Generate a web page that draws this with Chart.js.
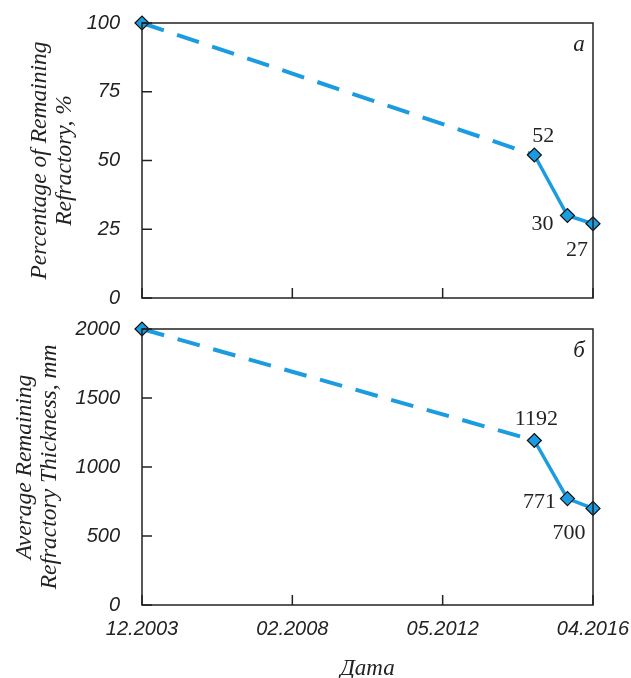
<!DOCTYPE html>
<html>
<head>
<meta charset="utf-8">
<script src="https://cdn.jsdelivr.net/npm/chart.js@4"></script>
<style>
  html, body { margin: 0; padding: 0; background: #fff; }
  #wrap { position: relative; width: 631px; height: 678px; }
  #top { position: absolute; left: 0; top: 0; }
  #bottom { position: absolute; left: 0; top: 315px; }
</style>
</head>
<body>
<div id="wrap">
  <canvas id="top" width="631" height="315"></canvas>
  <canvas id="bottom" width="631" height="363"></canvas>
</div>
<script>
// x positions on the evenly spaced date axis (0 = first tick, 3 = last tick)
const xPos = [0, 2.61, 2.83, 3];
const dateTicks = ['12.2003', '02.2008', '05.2012', '04.2016'];
const percentRemaining = [100, 52, 30, 27];
const thicknessRemaining = [2000, 1192, 771, 700];
const percentTicks = [0, 25, 50, 75, 100];
const thicknessTicks = [0, 500, 1000, 1500, 2000];

const blue = '#1b9be0';
const ink = '#222';
const tickFont = { family: 'Liberation Sans', style: 'italic', size: 20 };

// frame + inward tick marks + point labels + panel letter
const framePlugin = {
    id: 'frame',
    afterDraw(chart, args, opts) {
        const ctx = chart.ctx;
        const a = chart.chartArea;
        const xs = chart.scales.x, ys = chart.scales.y;
        ctx.save();
        ctx.strokeStyle = ink;
        ctx.lineWidth = 1.5;
        ctx.strokeRect(a.left, a.top, a.right - a.left, a.bottom - a.top);
        ctx.beginPath();
        xs.ticks.forEach(t => {
            const px = xs.getPixelForValue(t.value);
            ctx.moveTo(px, a.bottom);
            ctx.lineTo(px, a.bottom - 10);
        });
        ys.ticks.forEach(t => {
            const py = ys.getPixelForValue(t.value);
            ctx.moveTo(a.left, py);
            ctx.lineTo(a.left + 10, py);
        });
        ctx.stroke();
        ctx.restore();
    },
    afterDatasetsDraw(chart, args, opts) {
        const ctx = chart.ctx;
        const meta = chart.getDatasetMeta(0);
        ctx.save();
        ctx.fillStyle = ink;
        ctx.textAlign = 'center';
        ctx.textBaseline = 'middle';
        ctx.font = '22px "Liberation Serif"';
        opts.labels.forEach((l, i) => {
            if (!l) return;
            const pt = meta.data[i];
            ctx.fillText(l.text, pt.x + l.dx, pt.y + l.dy);
        });
        ctx.font = 'italic 23px "Liberation Serif"';
        ctx.fillText(opts.letter, chart.chartArea.right - 14, chart.chartArea.top + 22);
        ctx.restore();
    }
};

function makeChart(id, values, yTicks, yMax, yTitle, cfg) {
    return new Chart(document.getElementById(id), {
        type: 'line',
        data: {
            datasets: [{
                data: values.map((v, i) => ({ x: xPos[i], y: v })),
                borderColor: blue,
                borderWidth: 3.5,
                backgroundColor: blue,
                pointStyle: 'rectRot',
                pointRadius: 7,
                pointBorderColor: '#111',
                pointBorderWidth: 1.2,
                pointBackgroundColor: blue,
                tension: 0,
                clip: false,
                segment: {
                    borderDash: c => c.p0DataIndex === 0 ? [23, 14] : undefined,
                    borderWidth: c => c.p0DataIndex === 0 ? 4 : 3.5
                }
            }]
        },
        options: {
            responsive: false,
            animation: false,
            layout: { padding: { top: cfg.padTop, right: 38, left: 0, bottom: 0 } },
            plugins: {
                legend: { display: false },
                tooltip: { enabled: false },
                frame: { labels: cfg.labels, letter: cfg.letter }
            },
            scales: {
                x: {
                    type: 'linear',
                    min: 0, max: 3,
                    afterBuildTicks: s => { s.ticks = dateTicks.map((d, i) => ({ value: i })); },
                    afterFit: s => {
                        s.height = cfg.xHeight;
                        s.paddingLeft = 0;
                        s.paddingRight = 0;
                    },
                    grid: { display: false },
                    border: { display: false },
                    ticks: {
                        display: cfg.showX,
                        color: ink,
                        font: tickFont,
                        padding: 4,
                        maxRotation: 0,
                        autoSkip: false,
                        callback: (v, i) => dateTicks[i]
                    },
                    title: {
                        display: cfg.showX,
                        text: 'Дата',
                        color: ink,
                        font: { family: 'Liberation Serif', style: 'italic', size: 23, lineHeight: 0.8 },
                        padding: { top: 0, bottom: 0 }
                    }
                },
                y: {
                    min: 0, max: yMax,
                    afterBuildTicks: s => { s.ticks = yTicks.map(v => ({ value: v })); },
                    afterFit: s => {
                        s.width = 142;
                        s.paddingTop = 0;
                        s.paddingBottom = 0;
                    },
                    grid: { display: false },
                    border: { display: false },
                    ticks: {
                        color: ink,
                        font: tickFont,
                        padding: 14,
                        callback: v => String(v)
                    },
                    title: {
                        display: true,
                        text: yTitle,
                        color: ink,
                        font: { family: 'Liberation Serif', style: 'italic', size: 23.5, lineHeight: 1.07 },
                        padding: { top: cfg.titlePad, bottom: 0 }
                    }
                }
            }
        },
        plugins: [framePlugin]
    });
}

makeChart('top', percentRemaining, percentTicks, 100,
    ['Percentage of Remaining', 'Refractory, %'], {
        padTop: 23, xHeight: 17, showX: false, letter: 'a', titlePad: 27,
        labels: [null, { text: '52', dx: 9, dy: -19 }, { text: '30', dx: -25, dy: 9 }, { text: '27', dx: -16, dy: 26 }]
    });

makeChart('bottom', thicknessRemaining, thicknessTicks, 2000,
    ['Average Remaining', 'Refractory Thickness, mm'], {
        padTop: 14, xHeight: 73, showX: true, letter: 'б', titlePad: 12,
        labels: [null, { text: '1192', dx: 2, dy: -21 }, { text: '771', dx: -28, dy: 4 }, { text: '700', dx: -24, dy: 25 }]
    });
</script>
</body>
</html>
